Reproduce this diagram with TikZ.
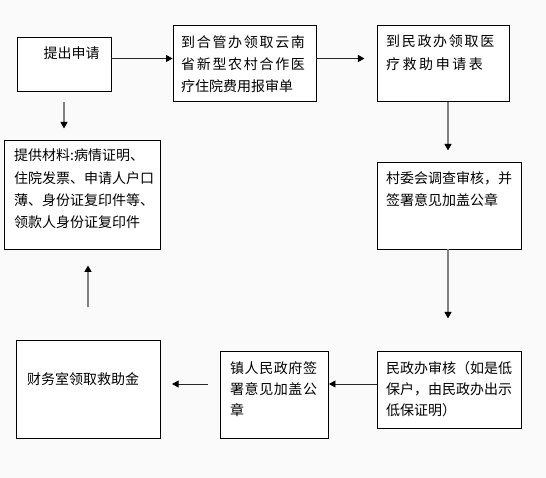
\documentclass[tikz,border=0pt]{standalone}
\usepackage{fontspec}
\setmainfont{Noto Sans CJK SC}
\usepackage{xcolor}
\usetikzlibrary{arrows.meta}
\definecolor{bg}{HTML}{FAFAFA}
\definecolor{vline}{HTML}{808080}
\tikzset{
  box/.style={draw=black,line width=0.9pt,fill=white,inner sep=0pt},
  txt/.style={inner sep=0pt,anchor=north west,align=left,font=\fontsize{14pt}{22.2pt}\selectfont},
  harr/.style={line width=0.9pt,draw=black!85,-{Triangle[length=6.5pt,width=7pt,color=black]}},
  varr/.style={line width=1.2pt,draw=vline,-{Triangle[length=6.5pt,width=7pt,color=black]}}
}
\newcommand{\lsp}[2]{{\addfontfeature{LetterSpace=#1}#2}}

\begin{document}
\begin{tikzpicture}[x=1pt,y=-1pt]
\fill[bg] (0,0) rectangle (546,478);
\useasboundingbox (0,0) rectangle (546,478);
% boxes
\node[box,minimum width=94pt,minimum height=54pt] (apply) at (64,64) {};
\node[box,minimum width=143pt,minimum height=76.5pt] (hosp) at (244.5,63.25) {};
\node[box,minimum width=132pt,minimum height=76.5pt] (aidform) at (443,63.25) {};
\node[box,minimum width=156.6pt,minimum height=109pt] (docs) at (82.3,194.5) {};
\node[box,minimum width=144pt,minimum height=87pt] (village) at (449,205.5) {};
\node[box,minimum width=144pt,minimum height=98pt] (finance) at (88,389.5) {};
\node[box,minimum width=108pt,minimum height=86.8pt] (town) at (274.5,395) {};
\node[box,minimum width=144pt,minimum height=76.3pt] (audit) at (449,390) {};
% texts
\node[txt] (applyt) at (43.5,47) {提出申请};
\node[txt] (hospt) at (181,35) {\lsp{12}{到合管办领取云南}\\\lsp{12}{省新型农村合作医}\\疗住院费用报审单};
\node[txt] (aidformt) at (386,35) {\lsp{12}{到民政办领取医}\\\lsp{18}{疗救助申请表}};
\node[txt] (docst) at (14,149) {提供材料:病情证明、\\住院发票、申请人户口\\薄、身份证复印件等、\\领款人身份证复印件};
\node[txt] (villaget) at (386,171.5) {村委会调查审核，并\\签署意见加盖公章};
\node[txt] (financet) at (27,372.5) {财务室领取救助金};
\node[txt,font=\fontsize{14pt}{21.3pt}\selectfont] (townt) at (230,361) {\lsp{4}{镇人民政府签}\\\lsp{4}{署意见加盖公}\\章};
\node[txt,font=\fontsize{14pt}{21.3pt}\selectfont] (auditt) at (386,361) {民政办审核（如是低\\保户，由民政办出示\\低保证明）};
% arrows
\draw[harr] ([yshift=5.5pt]apply.east) -- ([yshift=5.5pt]apply.east -| hosp.west);
\draw[harr] ([yshift=4.75pt]hosp.east) -- ++(48,0);
\draw[varr] ([xshift=5pt]aidform.south) -- ++(0,48.5);
\draw[varr] ([yshift=-11pt]apply.south) -- ++(0,26);
\draw[varr] ([xshift=-1pt]village.south) -- ++(0,69);
\draw[harr] ([yshift=6pt]audit.west) -- ([yshift=6pt]audit.west -| town.east);
\draw[harr] ([shift={(-12.5pt,11pt)}]town.west) -- ++(-35.5,0);
\draw[varr] ([yshift=32.6pt]finance.north) -- ++(0,-42);
\end{tikzpicture}
\end{document}
